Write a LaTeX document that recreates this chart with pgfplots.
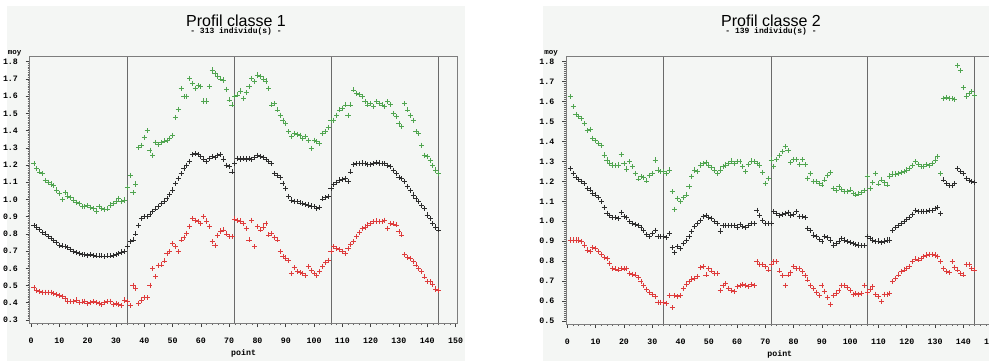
\documentclass[border=0pt]{standalone}
\usepackage{pgfplots}
\pgfplotsset{compat=1.18}
\usepackage{pgfplotstable}
\usepackage{fontspec}
\setmainfont{Liberation Sans}
\newfontfamily\tickfont{Liberation Mono}
\definecolor{panelbg}{RGB}{244,246,244}
\definecolor{ptgreen}{RGB}{80,165,80}
\definecolor{ptblack}{RGB}{45,45,45}
\definecolor{ptred}{RGB}{222,60,60}
\definecolor{framegray}{RGB}{125,125,125}

\pgfplotstableread{
x g k r
1 1.21 0.848 0.488
2 1.18 0.84 0.474
3 1.16 0.825 0.465
4 1.15 0.81 0.462
5 1.11 0.80 0.461
6 1.10 0.784 0.46
7 1.09 0.775 0.461
8 1.08 0.76 0.455
9 1.055 0.748 0.449
10 1.035 0.735 0.441
11 1.00 0.73 0.435
12 1.04 0.725 0.426
13 1.02 0.72 0.41
14 1.01 0.71 0.41
15 0.997 0.70 0.406
16 0.985 0.69 0.416
17 0.975 0.687 0.403
18 0.958 0.68 0.405
19 0.958 0.68 0.41
20 0.964 0.677 0.397
21 0.955 0.68 0.40
22 0.948 0.675 0.406
23 0.933 0.672 0.40
24 0.958 0.672 0.397
25 0.948 0.672 0.391
26 0.940 0.668 0.40
27 0.945 0.672 0.406
28 0.968 0.672 0.41
29 0.975 0.675 0.391
30 0.987 0.68 0.397
31 1.006 0.687 0.39
32 0.987 0.695 0.383
33 0.997 0.70 0.416
34 1.07 0.726 0.406
35 1.14 0.755 0.383
36 1.04 0.765 0.503
37 1.09 0.80 0.484
38 1.30 0.85 0.397
39 1.316 0.89 0.416
40 1.36 0.90 0.43
41 1.40 0.90 0.43
42 1.287 0.915 0.503
43 1.258 0.93 0.60
44 1.332 0.945 0.552
45 1.32 0.96 0.619
46 1.332 0.977 0.62
47 1.34 0.99 0.643
48 1.345 1.006 0.687
49 1.355 1.03 0.697
50 1.374 1.055 0.745
51 1.475 1.094 0.726
52 1.525 1.12 0.697
53 1.645 1.15 0.765
54 1.597 1.18 0.78
55 1.60 1.20 0.803
56 1.703 1.22 0.842
57 1.674 1.262 0.89
58 1.645 1.266 0.88
59 1.661 1.26 0.87
60 1.655 1.248 0.861
61 1.572 1.235 0.90
62 1.572 1.22 0.875
63 1.655 1.24 0.842
64 1.752 1.25 0.755
65 1.732 1.245 0.735
66 1.713 1.258 0.793
67 1.70 1.26 0.817
68 1.694 1.235 0.823
69 1.64 1.20 0.80
70 1.578 1.19 0.784
71 1.549 1.16 0.784
72 1.597 1.21 0.887
73 1.607 1.24 0.88
74 1.63 1.235 0.875
75 1.587 1.24 0.861
76 1.62 1.235 0.83
77 1.655 1.24 0.765
78 1.703 1.23 0.88
79 1.684 1.245 0.726
80 1.723 1.258 0.842
81 1.713 1.25 0.823
82 1.70 1.245 0.84
83 1.688 1.23 0.861
84 1.645 1.22 0.794
85 1.549 1.21 0.803
86 1.558 1.152 0.78
87 1.52 1.14 0.765
88 1.49 1.13 0.697
89 1.46 1.094 0.668
90 1.442 1.065 0.66
91 1.394 1.016 0.648
92 1.365 0.997 0.571
93 1.384 0.99 0.604
94 1.38 0.987 0.581
95 1.374 0.98 0.575
96 1.355 0.977 0.571
97 1.365 0.972 0.561
98 1.345 0.968 0.61
99 1.297 0.962 0.59
100 1.345 0.958 0.571
101 1.335 0.948 0.561
102 1.326 0.955 0.58
103 1.384 1.003 0.61
104 1.394 1.01 0.635
105 1.42 1.016 0.648
106 1.461 1.065 0.697
107 1.461 1.088 0.726
108 1.49 1.10 0.716
109 1.52 1.113 0.71
110 1.53 1.118 0.70
111 1.549 1.123 0.687
112 1.49 1.103 0.716
113 1.549 1.16 0.74
114 1.636 1.204 0.755
115 1.616 1.21 0.784
116 1.61 1.21 0.81
117 1.597 1.212 0.832
118 1.57 1.21 0.84
119 1.549 1.205 0.852
120 1.558 1.204 0.861
121 1.539 1.21 0.87
122 1.568 1.215 0.875
123 1.56 1.212 0.872
124 1.549 1.21 0.871
125 1.539 1.21 0.88
126 1.568 1.20 0.832
127 1.55 1.19 0.861
128 1.50 1.17 0.858
129 1.48 1.152 0.852
130 1.442 1.13 0.813
131 1.423 1.12 0.794
132 1.558 1.107 0.68
133 1.52 1.074 0.665
134 1.49 1.05 0.658
135 1.461 1.026 0.639
136 1.394 1.005 0.62
137 1.384 0.987 0.60
138 1.316 0.965 0.581
139 1.258 0.948 0.55
140 1.249 0.91 0.523
141 1.229 0.89 0.523
142 1.20 0.861 0.507
143 1.171 0.84 0.48
144 1.15 0.823 0.47
}\classeun

\pgfplotstableread{
x g k r
1 1.624 1.265 0.906
2 1.574 1.24 0.906
3 1.536 1.22 0.906
4 1.524 1.21 0.906
5 1.516 1.20 0.898
6 1.491 1.19 0.881
7 1.457 1.165 0.856
8 1.462 1.157 0.848
9 1.416 1.14 0.868
10 1.403 1.132 0.864
11 1.39 1.118 0.848
12 1.382 1.098 0.834
13 1.332 1.068 0.82
14 1.307 1.04 0.814
15 1.29 1.031 0.789
16 1.282 1.018 0.764
17 1.279 1.018 0.761
18 1.282 1.015 0.756
19 1.335 1.045 0.764
20 1.29 1.023 0.761
21 1.262 1.018 0.764
22 1.299 0.998 0.739
23 1.274 0.99 0.735
24 1.24 0.985 0.731
25 1.212 0.981 0.717
26 1.224 0.968 0.697
27 1.218 0.956 0.68
28 1.202 0.934 0.66
29 1.228 0.923 0.644
30 1.24 0.939 0.633
31 1.307 0.956 0.622
32 1.257 0.923 0.594
33 1.249 0.923 0.594
34 1.25 0.925 0.594
35 1.24 0.918 0.589
36 1.257 0.939 0.627
37 1.148 0.868 0.567
38 1.061 0.844 0.627
39 1.115 0.873 0.622
40 1.098 0.864 0.627
41 1.118 0.889 0.664
42 1.132 0.905 0.684
43 1.173 0.923 0.697
44 1.223 0.948 0.711
45 1.257 0.973 0.714
46 1.249 0.99 0.722
47 1.282 1.006 0.767
48 1.29 1.023 0.772
49 1.295 1.028 0.731
50 1.28 1.02 0.764
51 1.269 1.015 0.751
52 1.257 1.001 0.739
53 1.24 0.99 0.739
54 1.257 0.951 0.655
55 1.274 0.978 0.68
56 1.282 0.981 0.689
57 1.29 0.978 0.664
58 1.302 0.981 0.655
59 1.29 0.981 0.647
60 1.30 0.968 0.672
61 1.299 0.985 0.68
62 1.274 0.973 0.684
63 1.249 0.968 0.68
64 1.285 0.981 0.672
65 1.302 0.99 0.684
66 1.30 0.99 0.68
67 1.29 1.056 0.797
68 1.282 1.031 0.784
69 1.245 1.006 0.784
70 1.19 0.99 0.772
71 1.215 0.99 0.756
72 1.307 0.99 0.784
73 1.274 1.048 0.797
74 1.31 1.04 0.797
75 1.33 1.031 0.751
76 1.349 1.035 0.727
77 1.374 1.04 0.68
78 1.354 1.045 0.731
79 1.294 1.031 0.744
80 1.31 1.035 0.772
81 1.31 1.048 0.764
82 1.283 1.023 0.764
83 1.31 1.023 0.747
84 1.283 1.018 0.727
85 1.216 0.965 0.706
86 1.24 0.956 0.68
87 1.199 0.931 0.664
88 1.199 0.923 0.644
89 1.19 0.91 0.63
90 1.182 0.898 0.68
91 1.207 0.923 0.65
92 1.23 0.918 0.62
93 1.245 0.906 0.584
94 1.166 0.881 0.63
95 1.154 0.89 0.639
96 1.174 0.898 0.655
97 1.16 0.914 0.68
98 1.149 0.906 0.68
99 1.149 0.898 0.667
100 1.157 0.894 0.655
101 1.14 0.889 0.634
102 1.132 0.884 0.639
103 1.137 0.881 0.634
104 1.145 0.878 0.639
105 1.154 0.878 0.68
106 1.224 0.923 0.644
107 1.166 0.914 0.66
108 1.194 0.906 0.672
109 1.24 0.898 0.634
110 1.187 0.901 0.622
111 1.207 0.894 0.597
112 1.195 0.901 0.634
113 1.182 0.906 0.634
114 1.227 0.906 0.639
115 1.237 0.956 0.697
116 1.237 0.968 0.714
117 1.24 0.978 0.731
118 1.245 0.99 0.747
119 1.249 1.001 0.756
120 1.257 1.01 0.765
121 1.266 1.018 0.772
122 1.28 1.035 0.797
123 1.299 1.056 0.811
124 1.283 1.048 0.806
125 1.274 1.048 0.814
126 1.274 1.051 0.822
127 1.283 1.051 0.831
128 1.278 1.056 0.834
129 1.29 1.056 0.834
130 1.307 1.065 0.831
131 1.324 1.068 0.822
132 1.24 1.04 0.797
133 1.617 1.207 0.764
134 1.62 1.19 0.747
135 1.617 1.18 0.744
136 1.615 1.178 0.797
137 1.612 1.19 0.770
138 1.78 1.265 0.756
139 1.755 1.25 0.739
140 1.67 1.24 0.731
141 1.625 1.215 0.784
142 1.64 1.205 0.784
143 1.65 1.198 0.764
144 1.63 1.195 0.756
}\classedeux

\pgfplotsset{
  sasplot/.style={
    scale only axis,
    axis line style={framegray, line width=0.7pt},
    tick pos=left, tick align=outside,
    xmin=-0.5, xmax=150.7,
    xtick={0,10,...,150}, minor x tick num=4,
    minor y tick num=9,
    major tick length=3pt, minor tick length=1.6pt,
    every tick/.style={black!75, line width=0.45pt},
    every minor tick/.style={black!60, line width=0.4pt},
    every tick label/.append style={font=\tickfont\bfseries\fontsize{6.2}{7}\selectfont},
    /pgf/number format/assume math mode=true,
    yticklabel style={xshift=-2.3pt, /pgf/number format/fixed, /pgf/number format/fixed zerofill, /pgf/number format/precision=1},
    xticklabel style={yshift=-5pt},
    xlabel={point},
    xlabel style={font=\tickfont\bfseries\fontsize{6.2}{7}\selectfont, at={(axis description cs:0.5,0)}, anchor=north, yshift=-19.5pt, inner sep=0pt},
    ylabel={moy},
    ylabel style={rotate=-90, font=\tickfont\bfseries\fontsize{5.6}{6}\selectfont, at={(axis description cs:0,1)}, anchor=south east, xshift=-6pt, yshift=0.6pt, inner sep=0pt},
  },
  ptg/.style={only marks, mark=+, mark size=1.9pt, color=ptgreen, mark options={line width=0.6pt}},
  ptk/.style={only marks, mark=+, mark size=1.9pt, color=ptblack, mark options={line width=0.6pt}},
  ptr/.style={only marks, mark=+, mark size=1.9pt, color=ptred, mark options={line width=0.6pt}},
  vline/.style={framegray!85!black, line width=0.7pt},
}

\begin{document}
\begin{tikzpicture}
\path[use as bounding box] (0,0) rectangle (741.75pt,270.75pt);
\fill[panelbg] (5.25pt,0) rectangle (348.75pt,266.25pt);
\fill[panelbg] (407.25pt,0) rectangle (760pt,266.25pt);

\node[font=\fontsize{12}{14}\selectfont, inner sep=0pt] at (177pt,255.5pt) {Profil classe 1};
\node[font=\tickfont\bfseries\fontsize{6}{7}\selectfont, inner sep=0pt] at (177pt,247pt) {- 313 individu(s) -};
\node[font=\fontsize{12}{14}\selectfont, inner sep=0pt] at (578.25pt,255.5pt) {Profil classe 2};
\node[font=\tickfont\bfseries\fontsize{6}{7}\selectfont, inner sep=0pt] at (578.25pt,247pt) {- 139 individu(s) -};

\begin{axis}[sasplot, at={(22.275pt,28.5pt)}, anchor=south west,
  width=320.85pt, height=199.7pt,
  ymin=0.2826, ymax=1.829,
  ytick={0.3,0.4,0.5,0.6,0.7,0.8,0.9,1.0,1.1,1.2,1.3,1.4,1.5,1.6,1.7,1.8}]
\pgfplotsinvokeforeach{34,72,106,144}{\addplot[vline] coordinates {(#1,0.2826) (#1,1.829)};}
\addplot[ptg] table[x=x,y=g] {\classeun};
\addplot[ptk] table[x=x,y=k] {\classeun};
\addplot[ptr] table[x=x,y=r] {\classeun};
\end{axis}

\begin{axis}[sasplot, at={(424.5pt,27.75pt)}, anchor=south west,
  width=320.7pt, height=200.5pt,
  ymin=0.485, ymax=1.825,
  ytick={0.5,0.6,0.7,0.8,0.9,1.0,1.1,1.2,1.3,1.4,1.5,1.6,1.7,1.8}]
\pgfplotsinvokeforeach{34,72,106,144}{\addplot[vline] coordinates {(#1,0.485) (#1,1.825)};}
\addplot[ptg] table[x=x,y=g] {\classedeux};
\addplot[ptk] table[x=x,y=k] {\classedeux};
\addplot[ptr] table[x=x,y=r] {\classedeux};
\end{axis}
\end{tikzpicture}
\end{document}
